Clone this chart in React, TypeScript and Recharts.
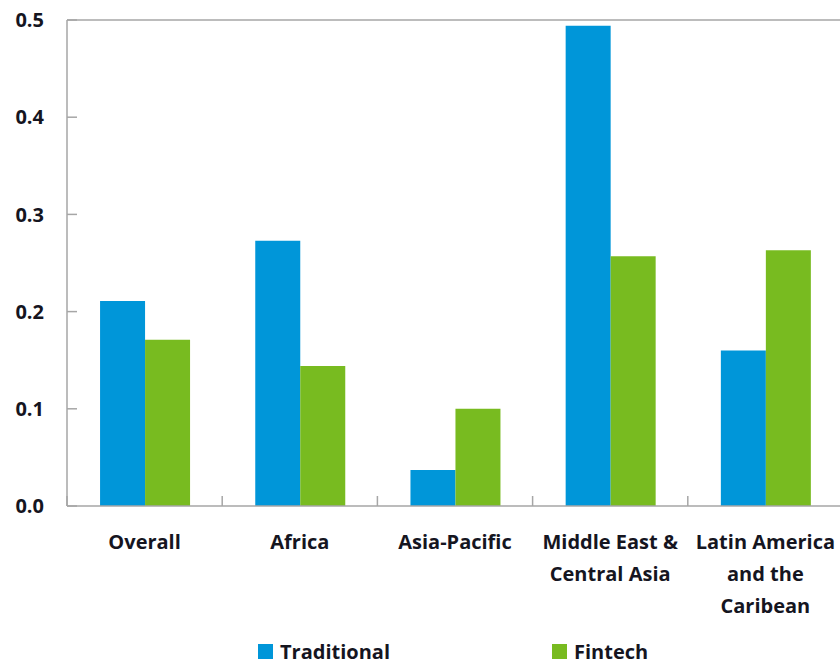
import { Bar, BarChart, Legend, ReferenceLine, XAxis, YAxis } from "recharts";

const categories = [
  "Overall",
  "Africa",
  "Asia-Pacific",
  "Middle East &\nCentral Asia",
  "Latin America\nand the\nCaribean",
];
const traditional = [0.211, 0.273, 0.037, 0.494, 0.16];
const fintech = [0.171, 0.144, 0.1, 0.257, 0.263];
const yTicks = [0, 0.1, 0.2, 0.3, 0.4, 0.5];

const data = categories.map((name, i) => ({
  name,
  traditional: traditional[i],
  fintech: fintech[i],
}));

const CHART_W = 850;
const CHART_H = 663;
const MARGIN = { top: 20, right: 7, left: 0, bottom: 0 };
const Y_AXIS_W = 67;
const X_AXIS_H = 157;
const BAND = (CHART_W - MARGIN.left - MARGIN.right - Y_AXIS_W) / categories.length;

const FONT = "'Open Sans', 'Noto Sans', sans-serif";
const TEXT = "#15151f";
const AXIS = "#a6a6a6";
const BLUE = "#0096d9";
const GREEN = "#78bb20";

function XTick(props: any) {
  const { x, y, payload } = props;
  const lines = String(payload.value).split("\n");
  return (
    <g>
      <line x1={x - BAND / 2} x2={x - BAND / 2} y1={y} y2={y - 10} stroke={AXIS} strokeWidth={1.5} />
      <text x={x} y={y} textAnchor="middle" fill={TEXT} fontFamily={FONT} fontWeight={700} fontSize={20}>
        {lines.map((l, i) => (
          <tspan key={i} x={x} y={y + 43 + i * 32}>
            {l}
          </tspan>
        ))}
      </text>
    </g>
  );
}

function YTick(props: any) {
  const { x, y, payload } = props;
  return (
    <g>
      <line x1={x} x2={x + 10} y1={y} y2={y} stroke={AXIS} strokeWidth={1.5} />
      <text x={x - 23} y={y} dy="0.36em" textAnchor="end" fill={TEXT} fontFamily={FONT} fontWeight={700} fontSize={20}>
        {Number(payload.value).toFixed(1)}
      </text>
    </g>
  );
}

function LegendContent() {
  const items = [
    { label: "Traditional", color: BLUE },
    { label: "Fintech", color: GREEN },
  ];
  return (
    <div style={{ display: "flex", paddingLeft: 258, fontFamily: FONT, fontWeight: 700, fontSize: 20, color: TEXT }}>
      {items.map((it, i) => (
        <div key={it.label} style={{ display: "flex", alignItems: "center", width: i === 0 ? 294 : "auto", height: 24 }}>
          <span style={{ display: "inline-block", width: 15, height: 15, background: it.color, marginRight: 7 }} />
          <span>{it.label}</span>
        </div>
      ))}
    </div>
  );
}

export default function App() {
  return (
    <div style={{ position: "absolute", left: 0, top: 0, width: 840, height: 663, overflow: "hidden", background: "#fff" }}>
      <BarChart
        width={CHART_W}
        height={CHART_H}
        data={data}
        margin={MARGIN}
        barCategoryGap="21.3%"
        barGap={0}
      >
        <XAxis
          dataKey="name"
          height={X_AXIS_H}
          interval={0}
          tickSize={0}
          tickMargin={0}
          tickLine={false}
          stroke={AXIS}
          strokeWidth={1.5}
          tick={<XTick />}
        />
        <YAxis
          width={Y_AXIS_W}
          domain={[0, 0.5]}
          ticks={yTicks}
          tickSize={0}
          tickMargin={0}
          tickLine={false}
          stroke={AXIS}
          strokeWidth={1.5}
          tick={<YTick />}
        />
        <ReferenceLine y={0.5} stroke={AXIS} strokeWidth={1.5} />
        <Legend
          layout="horizontal"
          verticalAlign="middle"
          align="center"
          wrapperStyle={{ top: 639, left: 0, width: CHART_W }}
          content={<LegendContent />}
        />
        <Bar dataKey="traditional" name="Traditional" fill={BLUE} isAnimationActive={false} />
        <Bar dataKey="fintech" name="Fintech" fill={GREEN} isAnimationActive={false} />
      </BarChart>
    </div>
  );
}
